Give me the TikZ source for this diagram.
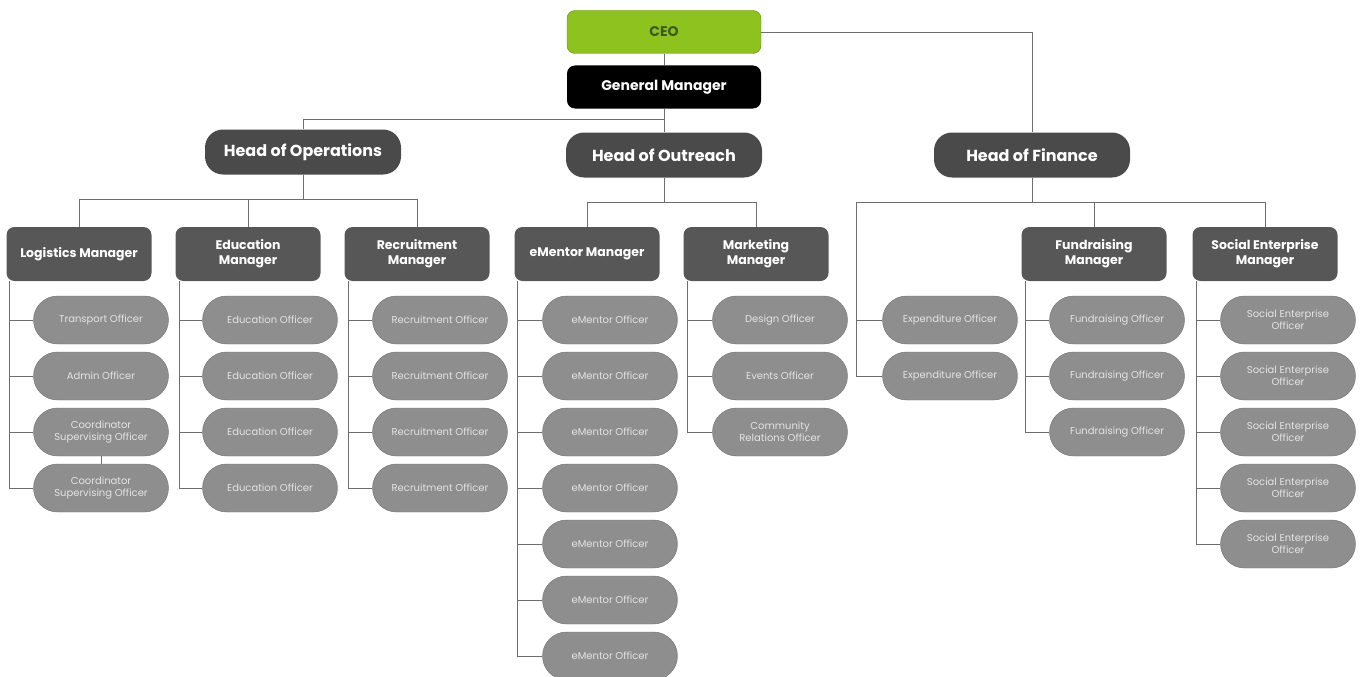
\documentclass[tikz,border=0pt]{standalone}
\usepackage{fontspec}
\setmainfont{Poppins}
\definecolor{ceogreen}{HTML}{8DC21F}
\definecolor{ceotext}{HTML}{3D5A1C}
\definecolor{headgrey}{HTML}{4A4A4A}
\definecolor{mangrey}{HTML}{575757}
\definecolor{offgrey}{HTML}{8E8E8E}
\definecolor{offedge}{HTML}{707070}
\definecolor{offtext}{HTML}{E4E4E4}
\definecolor{linegrey}{HTML}{6E6E6E}
\begin{document}
\begin{tikzpicture}[x=1pt,y=-1pt,
    boss/.style={minimum width=194pt, minimum height=43pt, inner sep=0pt,
        rounded corners=8pt, font=\fontsize{14}{16}\selectfont\bfseries},
    head/.style={minimum width=196pt, minimum height=45pt, inner sep=0pt,
        rounded corners=18pt, fill=headgrey, text=white,
        font=\fontsize{16}{18}\selectfont\bfseries},
    manager/.style={minimum width=145pt, minimum height=54pt, inner sep=0pt,
        rounded corners=8pt, fill=mangrey, text=white, align=center,
        font=\fontsize{12.5}{15}\selectfont\bfseries},
    officer/.style={minimum width=135pt, minimum height=48pt, inner sep=0pt,
        rounded corners=24pt, fill=offgrey, draw=offedge, text=offtext,
        align=center, font=\fontsize{10}{12}\selectfont},
    link/.style={draw=linegrey, line width=0.9pt}]
    \useasboundingbox (0,0) rectangle (1361,677);
    % Top of the chart
    \node[boss, fill=ceogreen, draw=ceogreen!70!black, text=ceotext] (ceo) at (664,32) {CEO};
    \node[boss, fill=black, text=white] (gm) at (664,87) {General Manager};
    \node[head] (hops) at (303,152) {Head of Operations};
    \node[head] (hout) at (664,155) {Head of Outreach};
    \node[head] (hfin) at (1032,155) {Head of Finance};
    % Managers
    \node[manager] (logm) at (79,254) {Logistics Manager};
    \node[manager] (edum) at (248,254) {Education\\Manager};
    \node[manager] (recm) at (417,254) {Recruitment\\Manager};
    \node[manager] (emm) at (587,254) {eMentor Manager};
    \node[manager] (mktm) at (756,254) {Marketing\\Manager};
    \node[manager] (fndm) at (1094,254) {Fundraising\\Manager};
    \node[manager] (socm) at (1265,254) {Social Enterprise\\Manager};
    % Officers
    \foreach \i/\t in {1/Transport Officer, 2/Admin Officer,
        3/Coordinator\\Supervising Officer, 4/Coordinator\\Supervising Officer} {
        \node[officer] (log\i) at (101,264+56*\i) {\t};
    }
    \foreach \i in {1,...,4} {
        \node[officer] (edu\i) at (270,264+56*\i) {Education Officer};
        \node[officer] (rec\i) at (440,264+56*\i) {Recruitment Officer};
    }
    \foreach \i in {1,...,7} {
        \node[officer] (em\i) at (610,264+56*\i) {eMentor Officer};
    }
    \foreach \i/\t in {1/Design Officer, 2/Events Officer, 3/Community\\Relations Officer} {
        \node[officer] (mkt\i) at (780,264+56*\i) {\t};
    }
    \foreach \i in {1,2} {
        \node[officer] (exp\i) at (950,264+56*\i) {Expenditure Officer};
    }
    \foreach \i in {1,...,3} {
        \node[officer] (fnd\i) at (1117,264+56*\i) {Fundraising Officer};
    }
    \foreach \i in {1,...,5} {
        \node[officer] (soc\i) at (1288,264+56*\i) {Social Enterprise\\Officer};
    }
    % Lines between levels
    \draw[link] (ceo) -- (gm);
    \draw[link] (gm) -- (hout);
    \draw[link] (ceo.east) -| (hfin.north);
    \draw[link] (gm.south) -- ++(0,11) -| (hops.north);
    \foreach \m in {logm,edum,recm} {
        \draw[link] (hops.south) -- ++(0,25) -| (\m.north);
    }
    \foreach \m in {emm,mktm} {
        \draw[link] (hout.south) -- ++(0,25) -| (\m.north);
    }
    \foreach \m in {fndm,socm} {
        \draw[link] (hfin.south) -- ++(0,25) -| (\m.north);
    }
    \coordinate (fbus) at (856,202);
    \draw[link] (hfin.south) |- (fbus);
    \foreach \i in {1,2} {
        \draw[link] (fbus) |- (exp\i.west);
    }
    % Lines to officers
    \foreach \i in {1,...,4} {
        \draw[link] ([xshift=3pt]logm.south west) |- (log\i.west);
        \draw[link] ([xshift=4pt]edum.south west) |- (edu\i.west);
        \draw[link] ([xshift=4pt]recm.south west) |- (rec\i.west);
    }
    \draw[link] (log3.south) -- (log4.north);
    \foreach \i in {1,...,7} {
        \draw[link] ([xshift=3pt]emm.south west) |- (em\i.west);
    }
    \foreach \i in {1,...,3} {
        \draw[link] ([xshift=4pt]mktm.south west) |- (mkt\i.west);
        \draw[link] ([xshift=4pt]fndm.south west) |- (fnd\i.west);
    }
    \foreach \i in {1,...,5} {
        \draw[link] ([xshift=4pt]socm.south west) |- (soc\i.west);
    }
\end{tikzpicture}
\end{document}
